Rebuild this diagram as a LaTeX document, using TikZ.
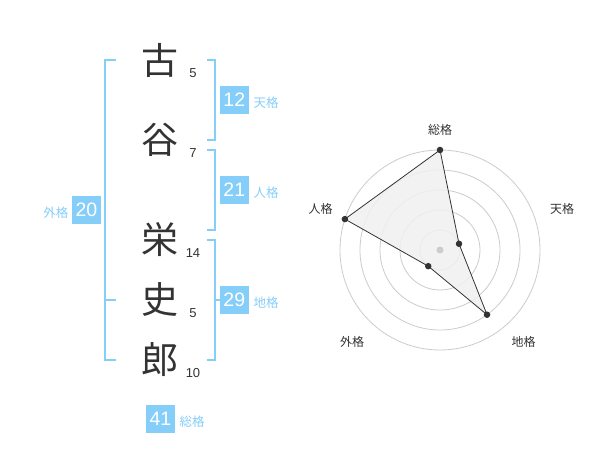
\documentclass[tikz,border=0pt]{standalone}
\usepackage{fontspec}
\setmainfont{Liberation Sans}
\newfontfamily\jp{Noto Sans CJK JP}
\definecolor{kb}{RGB}{51,51,51}
\definecolor{lb}{RGB}{134,206,250}
\definecolor{gridc}{RGB}{204,204,204}
\definecolor{polyfill}{RGB}{240,240,240}
\begin{document}
\begin{tikzpicture}[x=1pt,y=-1pt,
  kanji/.style={font=\jp\fontsize{37}{37}\selectfont, text=kb, inner sep=0pt},
  strokes/.style={font=\fontsize{13}{13}\selectfont, text=kb, inner sep=0pt},
  numbox/.style={fill=lb, text=white, font=\fontsize{19.5}{19.5}\selectfont, minimum width=28.5pt, minimum height=28.5pt, inner sep=0pt},
  kaku/.style={font=\jp\fontsize{12.5}{12.5}\selectfont, text=lb, inner sep=0pt},
  bracket/.style={draw=lb, line width=2pt},
  radlabel/.style={font=\jp\fontsize{12}{12}\selectfont, text=kb, inner sep=0pt},
  ring/.style={draw=gridc, line width=0.8pt},
  dot/.style={circle, fill=kb, minimum size=6.5pt, inner sep=0pt}]
\useasboundingbox (0,0) rectangle (600,470);
\fill[white] (0,0) rectangle (600,470);

% kanji
\node[kanji] (k1) at (160,60) {古};
\node[kanji] (k2) at (160,140) {谷};
\node[kanji] (k3) at (160,240) {栄};
\node[kanji] (k4) at (160,300) {史};
\node[kanji] (k5) at (160,360) {郎};
% stroke counts
\node[strokes] (s1) at (193,72.7) {5};
\node[strokes] (s2) at (193,152.7) {7};
\node[strokes] (s3) at (193,253) {14};
\node[strokes] (s4) at (193,313) {5};
\node[strokes] (s5) at (193,372.7) {10};

% brackets
\draw[bracket] (207,60) -- (215,60) -- (215,140) -- (207,140);
\draw[bracket] (207,150) -- (215,150) -- (215,230) -- (207,230);
\draw[bracket] (207,240) -- (215,240) -- (215,360) -- (207,360);
\draw[bracket] (215,300) -- (220,300);
\draw[bracket] (116,60) -- (105,60) -- (105,360) -- (116,360);
\draw[bracket] (105,300) -- (116,300);

% boxes
\node[numbox] (ten) at (234.3,100) {12};
\node[kaku, anchor=west] (tenl) at (253.5,103) {天格};
\node[numbox] (jin) at (234.3,190) {21};
\node[kaku, anchor=west] (jinl) at (253.5,193) {人格};
\node[numbox] (chi) at (234.3,300) {29};
\node[kaku, anchor=west] (chil) at (253.5,303) {地格};
\node[numbox] (gai) at (86.5,210) {20};
\node[kaku, anchor=east] (gail) at (68.5,213) {外格};
\node[numbox] (sou) at (160.5,419) {41};
\node[kaku, anchor=west] (soul) at (179.5,422) {総格};

% radar
\coordinate (c) at (440,250);
\foreach \r in {20,40,60,80,100} \draw[ring] (c) circle[radius=\r];
\coordinate (pS) at (440,150);
\coordinate (pT) at (459.02,243.82);
\coordinate (pC) at (487.02,314.72);
\coordinate (pG) at (428.24,266.18);
\coordinate (pJ) at (344.89,219.10);
\draw[fill=polyfill, fill opacity=0.85, draw=kb, line width=0.8pt, line join=round] (pS) -- (pT) -- (pC) -- (pG) -- (pJ) -- cycle;
\fill[gridc] (c) circle[radius=3.5];
\foreach \p in {pS,pT,pC,pG,pJ} \node[dot] at (\p) {};
\node[radlabel] (lS) at (440,130) {総格};
\node[radlabel] (lT) at (562,208.5) {天格};
\node[radlabel] (lJ) at (320.5,209) {人格};
\node[radlabel] (lG) at (352,342) {外格};
\node[radlabel] (lC) at (523.5,342) {地格};
\end{tikzpicture}
\end{document}
